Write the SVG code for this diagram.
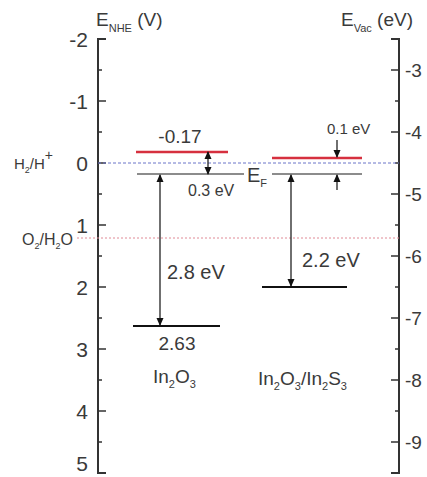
<svg xmlns="http://www.w3.org/2000/svg" width="427" height="477" viewBox="0 0 427 477">
<style>
text{font-family:"Liberation Sans",Arial,sans-serif;fill:#3a3a3a}
.ax{stroke:#333;stroke-width:2;fill:none}
.tk{stroke:#333;stroke-width:1.5}
.lab{font-size:21px}
.t15{font-size:15px}
.t16{font-size:16px}
.t19{font-size:19px}
.t20{font-size:20px}
.arr{stroke:#222;stroke-width:1.3;fill:none}
</style>
<defs>
<marker id="ah" markerWidth="8" markerHeight="10" refX="7" refY="5" orient="auto" markerUnits="userSpaceOnUse">
<path d="M0,1.5 L8,5 L0,8.5 Z" fill="#111"/>
</marker>
</defs>
<g id="axis-left">
<path class="ax" d="M106,39 H98 V473 H106"/>
<path class="tk" d="M98,101 H106 M98,163 H106 M98,225 H106 M98,287 H106 M98,349 H106 M98,411 H106 M98,70 H102 M98,132 H102 M98,194 H102 M98,256 H102 M98,318 H102 M98,380 H102 M98,442 H102"/>
<g class="lab" text-anchor="end">
<text x="88" y="47">-2</text>
<text x="88" y="109">-1</text>
<text x="88" y="171">0</text>
<text x="88" y="233">1</text>
<text x="88" y="295">2</text>
<text x="88" y="357">3</text>
<text x="88" y="419">4</text>
<text x="88" y="471">5</text>
</g>
<text x="96" y="26" font-size="19">E<tspan font-size="11" dy="6">NHE</tspan><tspan dy="-6"> (V)</tspan></text>
</g>
<g id="axis-right">
<path class="ax" d="M391,39 H399 V473 H391"/>
<path class="tk" d="M399,70 H391 M399,132 H391 M399,194 H391 M399,256 H391 M399,318 H391 M399,380 H391 M399,442 H391 M399,101 H395 M399,163 H395 M399,225 H395 M399,287 H395 M399,349 H395 M399,411 H395"/>
<g class="t19">
<text x="405" y="77">-3</text>
<text x="405" y="139">-4</text>
<text x="405" y="201">-5</text>
<text x="405" y="263">-6</text>
<text x="405" y="325">-7</text>
<text x="405" y="387">-8</text>
<text x="405" y="449">-9</text>
</g>
<text x="341" y="26" font-size="19">E<tspan font-size="11" dy="6">Vac</tspan><tspan dy="-6"> (eV)</tspan></text>
</g>
<g id="redox">
<line x1="98" y1="163" x2="399" y2="163" stroke="#6a74c8" stroke-width="1" stroke-dasharray="3,2"/>
<line x1="77" y1="238" x2="399" y2="238" stroke="#e08a96" stroke-width="1" stroke-dasharray="2,2"/>
<text x="14" y="169" font-size="15">H<tspan font-size="9" dy="4">2</tspan><tspan dy="-4">/H</tspan><tspan font-size="14" dy="-9">+</tspan></text>
<text x="22" y="245" font-size="16">O<tspan font-size="9" dy="4">2</tspan><tspan dy="-4">/H</tspan><tspan font-size="9" dy="4">2</tspan><tspan dy="-4">O</tspan></text>
</g>
<g id="in2o3">
<line x1="136" y1="152" x2="228" y2="152" stroke="#d6303f" stroke-width="2.5"/>
<line x1="137" y1="174" x2="244" y2="174" stroke="#666" stroke-width="1.3"/>
<line x1="133" y1="326" x2="220" y2="326" stroke="#111" stroke-width="2"/>
<text x="180" y="143" class="t19" text-anchor="middle">-0.17</text>
<text x="188" y="196" class="t16">0.3 eV</text>
<text x="167" y="279" class="t20">2.8 eV</text>
<text x="177" y="350" class="t19" text-anchor="middle">2.63</text>
<text x="153" y="383" class="t19">In<tspan font-size="11" dy="5">2</tspan><tspan dy="-5">O</tspan><tspan font-size="11" dy="5">3</tspan></text>
<text x="247" y="182" class="t20">E<tspan font-size="11" dy="5">F</tspan></text>
</g>
<g id="in2o3-in2s3">
<line x1="272" y1="158" x2="362" y2="158" stroke="#d6303f" stroke-width="2.5"/>
<line x1="272" y1="174" x2="362" y2="174" stroke="#666" stroke-width="1.3"/>
<line x1="262" y1="287" x2="347" y2="287" stroke="#111" stroke-width="2"/>
<text x="327" y="134" class="t15">0.1 eV</text>
<text x="302" y="267" class="t20">2.2 eV</text>
<text x="258" y="385" class="t19">In<tspan font-size="11" dy="5">2</tspan><tspan dy="-5">O</tspan><tspan font-size="11" dy="5">3</tspan><tspan dy="-5">/In</tspan><tspan font-size="11" dy="5">2</tspan><tspan dy="-5">S</tspan><tspan font-size="11" dy="5">3</tspan></text>
</g>
<g id="connectors">
<line class="arr" x1="208" y1="163" x2="208" y2="152" marker-end="url(#ah)"/>
<line class="arr" x1="208" y1="163" x2="208" y2="174" marker-end="url(#ah)"/>
<line class="arr" x1="160" y1="250" x2="160" y2="175" marker-end="url(#ah)"/>
<line class="arr" x1="160" y1="250" x2="160" y2="325" marker-end="url(#ah)"/>
<line class="arr" x1="291" y1="230" x2="291" y2="175" marker-end="url(#ah)"/>
<line class="arr" x1="291" y1="230" x2="291" y2="286" marker-end="url(#ah)"/>
<line class="arr" x1="337" y1="140" x2="337" y2="157" marker-end="url(#ah)"/>
<line class="arr" x1="337" y1="190" x2="337" y2="175" marker-end="url(#ah)"/>
</g>
</svg>
